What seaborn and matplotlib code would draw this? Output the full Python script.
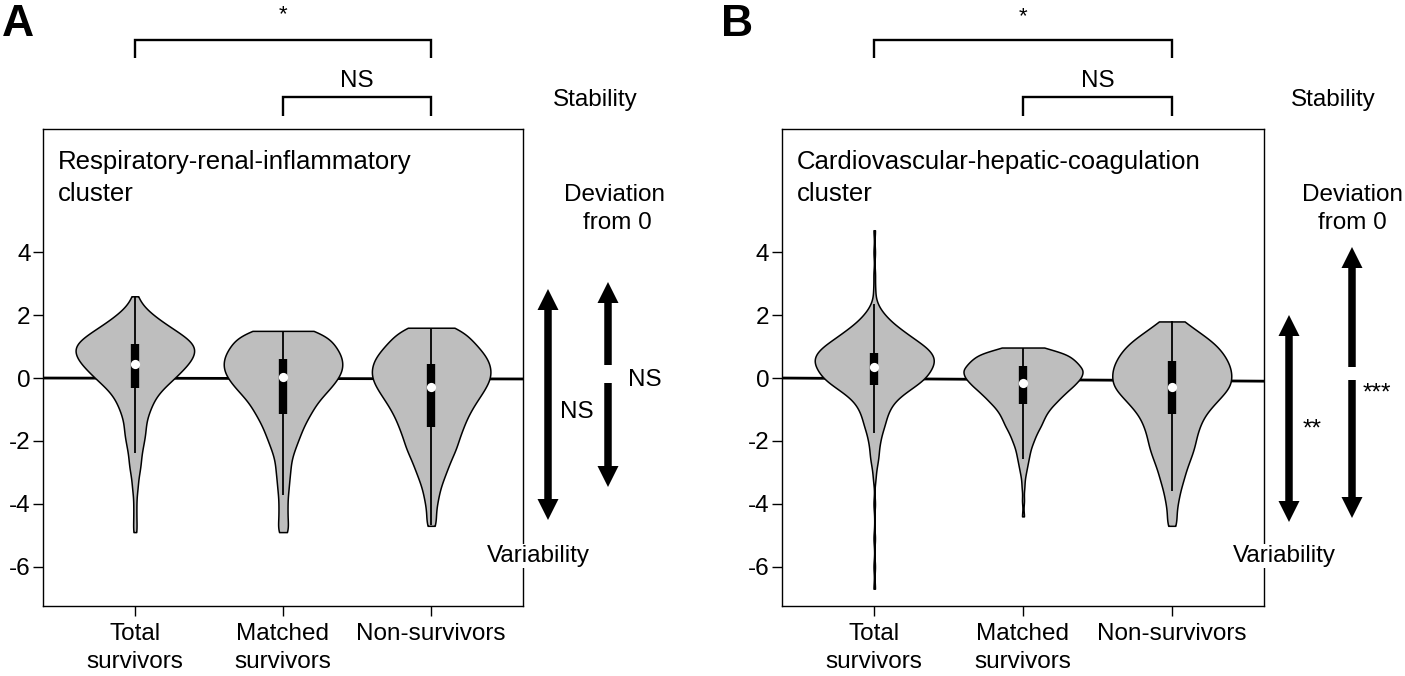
import numpy as np
import pandas as pd
import seaborn as sns
import matplotlib.pyplot as plt
from matplotlib.patches import Polygon

groups = ["Total\nsurvivors", "Matched\nsurvivors", "Non-survivors"]

# Panel A - respiratory-renal-inflammatory cluster
# score levels and how many patients sit at each level
a_ts_y = [2.6, 2.5, 2.25, 2.0, 1.75, 1.5, 1.25, 1.0, 0.75, 0.5, 0.25, 0.0, -0.25, -0.5, -0.75, -1.0,
          -1.25, -1.5, -1.75, -2.0, -2.25, -2.5, -2.75, -3.0, -3.25, -3.5, -3.75, -4.0, -4.25, -4.5, -4.75, -4.9]
a_ts_n = [1, 2, 6, 12, 19, 27, 35, 40, 39, 36, 31, 26, 20, 15, 12, 10,
          8, 7, 7, 6, 5, 4, 4, 3, 2, 2, 1, 1, 1, 1, 1, 1]
a_ms_y = [1.5, 1.25, 1.0, 0.75, 0.5, 0.25, 0.0, -0.25, -0.5, -0.75, -1.0, -1.25, -1.5, -1.75,
          -2.0, -2.25, -2.5, -2.75, -3.0, -3.25, -3.5, -3.75, -4.0, -4.25, -4.5, -4.75, -4.9]
a_ms_n = [26, 32, 35, 39, 40, 40, 37, 33, 28, 23, 20, 17, 14, 12,
          10, 8, 6, 5, 5, 4, 4, 3, 3, 3, 3, 3, 3]
a_ns_y = [1.6, 1.5, 1.25, 1.0, 0.75, 0.5, 0.25, 0.0, -0.25, -0.5, -0.75, -1.0, -1.25, -1.5,
          -1.75, -2.0, -2.25, -2.5, -2.75, -3.0, -3.25, -3.5, -3.75, -4.0, -4.25, -4.5, -4.7]
a_ns_n = [12, 16, 27, 31, 36, 39, 40, 40, 37, 34, 30, 27, 24, 22,
          20, 18, 17, 14, 12, 10, 8, 6, 5, 4, 3, 3, 3]

# Panel B - cardiovascular-hepatic-coagulation cluster
b_ts_y = [4.7, 4.0, 3.3, 2.85, 2.5, 2.25, 2.0, 1.75, 1.5, 1.25, 1.0, 0.75, 0.5, 0.25, 0.0, -0.25,
          -0.5, -0.75, -1.0, -1.25, -1.5, -1.75, -2.0, -2.25, -2.5, -2.75, -3.0, -3.25, -4.0, -5.1,
          -6.0, -6.7]
b_ts_n = [1, 1, 1, 1, 1, 3, 7, 12, 19, 26, 34, 39, 40, 37, 34, 27,
          19, 13, 10, 8, 7, 5, 4, 3, 3, 2, 1, 1, 1, 1,
          1, 1]
b_ms_y = [0.97, 0.75, 0.5, 0.25, 0.0, -0.25, -0.5, -0.75, -1.0, -1.25, -1.5, -1.75, -2.0, -2.25,
          -2.5, -2.75, -3.0, -3.25, -3.5, -3.9, -4.4]
b_ms_n = [10, 30, 35, 40, 38, 33, 27, 22, 17, 14, 12, 9, 7, 5,
          4, 3, 2, 1, 1, 1, 1]
b_ns_y = [1.8, 1.75, 1.5, 1.25, 1.0, 0.75, 0.5, 0.25, 0.0, -0.25, -0.5, -0.75, -1.0, -1.25,
          -1.5, -1.75, -2.0, -2.25, -2.5, -2.75, -3.0, -3.25, -3.5, -3.75, -4.0, -4.25, -4.5, -4.7]
b_ns_n = [5, 6, 17, 25, 31, 35, 38, 40, 40, 40, 35, 30, 25, 21,
          19, 17, 16, 15, 13, 11, 9, 8, 6, 5, 4, 3, 3, 3]

# box summaries: lower whisker, q1, median, q3, upper whisker
a_lo = [-2.37, -3.72, -4.68]
a_q1 = [-0.33, -1.15, -1.57]
a_med = [0.45, 0.02, -0.30]
a_q3 = [1.08, 0.61, 0.46]
a_hi = [2.6, 1.5, 1.6]
b_lo = [-1.75, -2.56, -3.6]
b_q1 = [-0.23, -0.81, -1.15]
b_med = [0.35, -0.15, -0.28]
b_q3 = [0.80, 0.38, 0.53]
b_hi = [2.35, 0.97, 1.8]

# reference line at zero (left end, right end)
a_ref = [0.0, -0.03]
b_ref = [0.0, -0.10]

y_ticks = [-6, -4, -2, 0, 2, 4]

sns.set_theme(style="ticks")
plt.rcParams['font.family'] = ['Liberation Sans', 'DejaVu Sans']
plt.rcParams['axes.unicode_minus'] = False
plt.rcParams['text.color'] = 'black'

W, H = 1405, 676
FS = 17.5


def long_form(parts):
    frames = []
    for g, (ys, ns) in zip(groups, parts):
        frames.append(pd.DataFrame({'group': g, 'score': np.repeat(ys, ns)}))
    return pd.concat(frames, ignore_index=True)


def draw_panel(ax, df, lo, q1, med, q3, hi, ref, title):
    sns.violinplot(data=df, x='group', y='score', order=groups, ax=ax,
                   color='#bebebe', saturation=1, linecolor='black', linewidth=1.1,
                   inner=None, cut=0, density_norm='width', width=0.8,
                   bw_method=0.17, gridsize=300)
    ax.set_xlim(-0.62, 2.62)
    ax.set_ylim(-7.25, 7.92)
    ax.plot(ax.get_xlim(), ref, color='black', lw=2.0, zorder=0.5)
    for i in range(len(groups)):
        ax.plot([i, i], [lo[i], hi[i]], color='black', lw=1.3, solid_capstyle='butt', zorder=3)
        ax.plot([i, i], [q1[i], q3[i]], color='black', lw=6.0, solid_capstyle='butt', zorder=3)
    ax.scatter(range(len(groups)), med, s=44, color='white', linewidths=0, zorder=4)

    ax.set_yticks(y_ticks)
    ax.set_xlabel('')
    ax.set_ylabel('')
    ax.tick_params(axis='both', length=7, width=1, color='black', labelsize=FS, labelcolor='black')
    ax.tick_params(axis='y', pad=2)
    ax.tick_params(axis='x', pad=5)
    for lbl in ax.get_xticklabels():
        lbl.set_linespacing(1.35)
    for s in ax.spines.values():
        s.set_visible(True)
        s.set_color('black')
        s.set_linewidth(1.0)
    # two lines placed separately so the spacing matches
    first, second = title.split('\n')
    ax.text(15 / 480, (606 - 169) / 477, first, transform=ax.transAxes,
            fontsize=18.5, va='baseline', ha='left', color='black')
    ax.text(15 / 480, (606 - 201) / 477, second, transform=ax.transAxes,
            fontsize=18.5, va='baseline', ha='left', color='black')


fig = plt.figure(figsize=(W / 100, H / 100), dpi=100)
ax_a = fig.add_axes([43 / W, 1 - 606 / H, 480 / W, 477 / H])
ax_b = fig.add_axes([782 / W, 1 - 606 / H, 482 / W, 477 / H])

draw_panel(ax_a, long_form([(a_ts_y, a_ts_n), (a_ms_y, a_ms_n), (a_ns_y, a_ns_n)]),
           a_lo, a_q1, a_med, a_q3, a_hi, a_ref, "Respiratory-renal-inflammatory\ncluster")
draw_panel(ax_b, long_form([(b_ts_y, b_ts_n), (b_ms_y, b_ms_n), (b_ns_y, b_ns_n)]),
           b_lo, b_q1, b_med, b_q3, b_hi, b_ref, "Cardiovascular-hepatic-coagulation\ncluster")

# overlay in pixel coordinates for brackets, arrows and side labels
ov = fig.add_axes([0, 0, 1, 1])
ov.set_xlim(0, W)
ov.set_ylim(H, 0)
ov.axis('off')
ov.patch.set_visible(False)
ov.set_zorder(5)


def px(ax, i):
    return ax.transData.transform((i, 0))[0]


def bracket(x1, x2, y, drop):
    ov.plot([x1, x1, x2, x2], [y + drop, y, y, y + drop], color='black', lw=1.7,
            solid_joinstyle='miter', solid_capstyle='butt')


def arrow(x, top, bottom, gap=None, head_len=21, head_w=21, shaft=7.5):
    if gap is None:
        segs = [(top + head_len - 1, bottom - head_len + 1)]
    else:
        segs = [(top + head_len - 1, gap[0]), (gap[1], bottom - head_len + 1)]
    for a, b in segs:
        ov.plot([x, x], [a, b], color='black', lw=shaft * 0.72, solid_capstyle='butt')
    ov.add_patch(Polygon([(x - head_w / 2, top + head_len), (x + head_w / 2, top + head_len), (x, top)],
                         closed=True, facecolor='black', edgecolor='none'))
    ov.add_patch(Polygon([(x - head_w / 2, bottom - head_len), (x + head_w / 2, bottom - head_len), (x, bottom)],
                         closed=True, facecolor='black', edgecolor='none'))


def label(x, y, s, size=FS, **kw):
    ov.text(x, y, s, fontsize=size, ha='center', va='baseline', color='black', **kw)


for ax, letter, lx, star_y in [(ax_a, 'A', 18, 20), (ax_b, 'B', 737, 22)]:
    x0, x1, x2 = px(ax, 0), px(ax, 1), px(ax, 2)
    ov.text(lx, 36, letter, fontsize=32, fontweight='bold', ha='center', va='baseline')
    label((x0 + x2) / 2, star_y, '*', size=16)
    bracket(x0, x2, 40, 18)
    label((x1 + x2) / 2, 87, 'NS')
    bracket(x1, x2, 97, 19)

# panel A side annotations
label(595, 106, 'Stability')
label(614, 201, 'Deviation')
label(617, 229, 'from 0')
arrow(548, 289, 520)
arrow(608, 282, 487, gap=(365, 383))
label(577, 418, 'NS')
label(645, 386, 'NS')
label(538, 562, 'Variability', bbox=dict(facecolor='white', edgecolor='none', pad=1))

# panel B side annotations
label(1333, 106, 'Stability')
label(1352, 201, 'Deviation')
label(1352, 229, 'from 0')
arrow(1289, 315, 522)
arrow(1352, 247, 518, gap=(367, 380))
label(1312, 436, '**')
label(1377, 400, '***')
label(1284, 562, 'Variability', bbox=dict(facecolor='white', edgecolor='none', pad=1))

fig.savefig('out.png', dpi=100)
